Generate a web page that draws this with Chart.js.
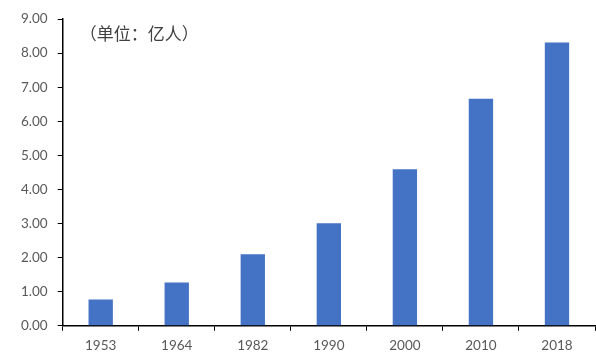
<!DOCTYPE html>
<html>
<head>
<meta charset="utf-8">
<script src="https://cdn.jsdelivr.net/npm/chart.js@4/dist/chart.umd.min.js"></script>
<style>
    html, body { margin: 0; padding: 0; background: #fff; overflow: hidden; }
    #wrap { width: 596px; height: 361px; position: relative; }
</style>
</head>
<body>
<div id="wrap"><canvas id="chartCanvas"></canvas></div>
<script>
// 城镇人口（亿人）
let years = ['1953', '1964', '1982', '1990', '2000', '2010', '2018'];
let population = [0.77, 1.27, 2.10, 3.01, 4.59, 6.66, 8.31];
let unitLabel = '（单位：亿人）';

let tickFont = { family: 'Lato, "Open Sans", sans-serif', size: 13.5 };

// draws the unit note in the top left corner of the plot
let unitNote = {
    id: 'unitNote',
    afterDraw: function (chart) {
        let ctx = chart.ctx;
        ctx.save();
        ctx.font = '17px "Noto Sans CJK SC", sans-serif';
        ctx.fillStyle = '#404040';
        ctx.textBaseline = 'middle';
        ctx.fillText(unitLabel, chart.chartArea.left + 17, 34);
        ctx.restore();
    }
};

let config = {
    type: 'bar',
    data: {
        labels: years,
        datasets: [{
            data: population,
            backgroundColor: '#4472C4',
            barPercentage: 0.32,
            categoryPercentage: 1
        }]
    },
    options: {
        responsive: true,
        maintainAspectRatio: false,
        animation: false,
        layout: { padding: { top: 19, right: 1, left: 11, bottom: 0 } },
        plugins: { legend: { display: false }, tooltip: { enabled: false } },
        scales: {
            x: {
                offset: true,
                grid: { offset: true, drawOnChartArea: false, color: '#000', tickLength: 5, lineWidth: 1 },
                border: { color: '#000', width: 1.5 },
                ticks: { color: '#595959', font: tickFont, padding: 7 }
            },
            y: {
                min: 0,
                max: 9,
                grid: { drawOnChartArea: false, color: '#000', tickLength: 5 },
                border: { color: '#000', width: 1.5 },
                ticks: {
                    stepSize: 1,
                    color: '#595959',
                    font: tickFont,
                    padding: 10,
                    callback: function (v) { return v.toFixed(2); }
                }
            }
        }
    },
    plugins: [unitNote]
};

let chart = new Chart(document.getElementById('chartCanvas').getContext('2d'), config);
</script>
</body>
</html>
